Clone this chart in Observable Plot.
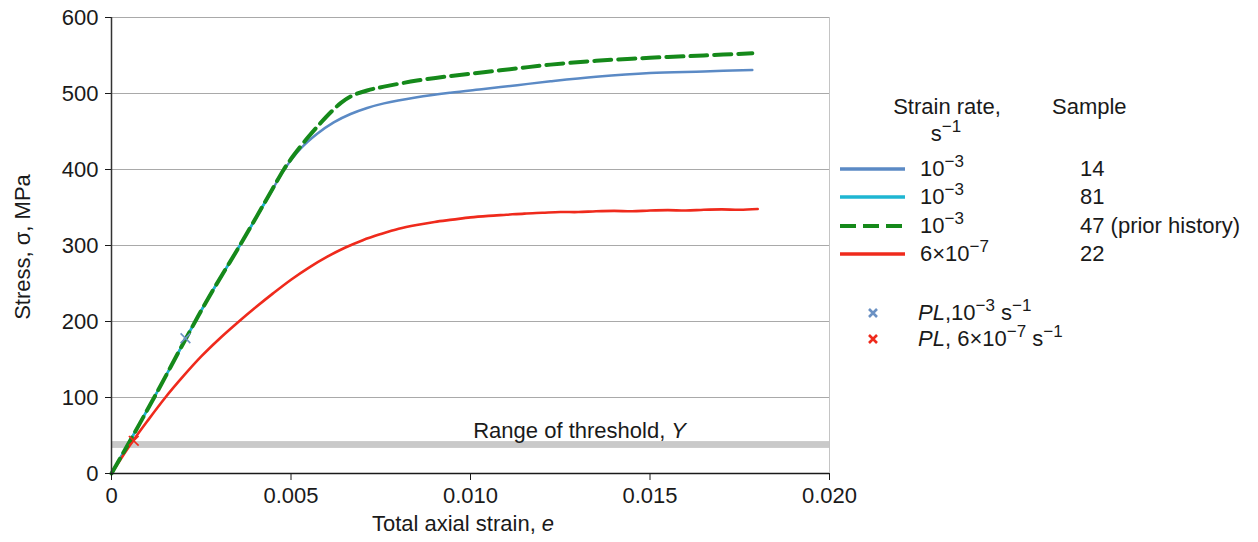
<!DOCTYPE html>
<html>
<head>
<meta charset="utf-8">
<script src="https://cdn.jsdelivr.net/npm/d3@7"></script>
<script src="https://cdn.jsdelivr.net/npm/@observablehq/plot@0.6"></script>
<style>
  html, body { margin: 0; padding: 0; background: #fff; }
  #chart { width: 1258px; height: 542px; }
  #chart svg { display: block; }
</style>
</head>
<body>
<div id="chart"></div>
<script>
// Axis ticks
const strainTicks = [0, 0.005, 0.010, 0.015, 0.020];
const strainTickLabels = ["0", "0.005", "0.010", "0.015", "0.020"];
const stressTicks = [0, 100, 200, 300, 400, 500, 600];

// Sample 14, strain rate 1e-3 /s
const s14Strain = [0, 0.0006, 0.0012, 0.0021, 0.0027, 0.0036, 0.0045, 0.0048, 0.00526, 0.00573, 0.00619, 0.00666, 0.00712, 0.00759, 0.00851, 0.00944, 0.01037, 0.0113, 0.01223, 0.0135, 0.0150, 0.0165, 0.01785];
const s14Stress = [0, 50, 101, 180, 231, 302, 375, 399, 427, 447, 462, 473, 481, 487, 495, 501, 506, 511, 516, 522, 527, 529, 531];

// Sample 81, strain rate 1e-3 /s
const s81Strain = [0, 0.0006, 0.0012, 0.0021, 0.0027, 0.0036, 0.0045];
const s81Stress = [0, 50, 101, 180, 231, 302, 375];

// Sample 47 (prior history), strain rate 1e-3 /s
const s47Strain = [0, 0.0006, 0.0012, 0.0021, 0.0027, 0.0036, 0.00448, 0.0048, 0.00508, 0.00545, 0.00582, 0.0061, 0.0064, 0.0067, 0.00712, 0.00759, 0.00851, 0.00944, 0.01037, 0.0113, 0.01223, 0.0135, 0.0150, 0.0165, 0.01785];
const s47Stress = [0, 50, 101, 180, 231, 302, 374, 400, 419, 441, 461, 475, 488, 497, 504, 509, 517, 523, 528, 533, 538, 543, 547, 550, 553];

// Sample 22, strain rate 6e-7 /s
const s22Strain = [0, 0.0003, 0.0006, 0.0010, 0.0015, 0.0020, 0.0025, 0.0030, 0.0035, 0.0040, 0.0045, 0.0050, 0.0055, 0.0060, 0.0065, 0.0070, 0.0075, 0.0080, 0.0085, 0.0090, 0.0095, 0.0100, 0.0105, 0.0110, 0.0115, 0.0120, 0.0125, 0.0130, 0.0135, 0.0140, 0.0145, 0.0150, 0.0155, 0.0160, 0.0165, 0.0170, 0.0175, 0.0180];
const s22Stress = [0, 22, 43, 69, 100, 128, 154, 177, 198, 218, 237, 255, 271, 285, 297, 307, 315, 322, 327, 331, 334, 337, 339, 340.5, 342, 343, 344, 344, 345, 345.5, 345, 346, 346.5, 346, 347, 347.5, 347, 348];

// Proportional limit points
const plStrain = [0.00206, 0.00062];
const plStress = [178, 43];
const plColors = ["#6b91c3", "#ef2a1c"];

// Range of the threshold stress Y
const thresholdRange = [33, 42];

const colors = { s14: "#5b8ac5", s81: "#1eb6d2", s47: "#15891a", s22: "#ef2a1c" };

const toRows = (xs, ys) => xs.map((x, i) => ({ x, y: ys[i] }));
const s14 = toRows(s14Strain, s14Stress);
const s81 = toRows(s81Strain, s81Stress);
const s47 = toRows(s47Strain, s47Stress);
const s22 = toRows(s22Strain, s22Stress);
const pl = plStrain.map((x, i) => ({ x, y: plStress[i], c: plColors[i] }));

const FONT = "'Liberation Sans', Arial, Helvetica, sans-serif";

const chart = Plot.plot({
  width: 1258,
  height: 542,
  marginLeft: 111,
  marginRight: 429,
  marginTop: 17,
  marginBottom: 69,
  style: { fontFamily: FONT, fontSize: "22px", color: "#1a1a1a", background: "#fff" },
  x: { domain: [0, 0.02] },
  y: { domain: [0, 600] },
  marks: [
    Plot.rect([thresholdRange], { x1: () => strainTicks[0], x2: () => strainTicks[strainTicks.length - 1], y1: d => d[0], y2: d => d[1], fill: "#c9c9c9" }),
    Plot.gridY(stressTicks.filter(d => d > 0), { stroke: "#a9a9a9", strokeOpacity: 1, strokeWidth: 1 }),
    Plot.ruleX([strainTicks[strainTicks.length - 1]], { stroke: "#c4c4c4", strokeWidth: 1 }),
    Plot.text(["Range of threshold, Y"], { x: () => 0.01304, y: () => 46.5, text: d => d, textAnchor: "middle", lineAnchor: "bottom", fill: "#1a1a1a", fontSize: 22 }),
    Plot.line(s14, { x: "x", y: "y", stroke: colors.s14, strokeWidth: 2.5, curve: "catmull-rom" }),
    Plot.line(s81, { x: "x", y: "y", stroke: colors.s81, strokeWidth: 2.5, curve: "catmull-rom" }),
    Plot.line(s22, { x: "x", y: "y", stroke: colors.s22, strokeWidth: 2.6, curve: "catmull-rom" }),
    Plot.line(s47, { x: "x", y: "y", stroke: colors.s47, strokeWidth: 4, strokeDasharray: "17,7", curve: "catmull-rom" }),
    Plot.ruleY([0], { stroke: "#1a1a1a", strokeWidth: 1.3 }),
    Plot.ruleX([0], { stroke: "#333", strokeWidth: 1.5 }),
    Plot.dot(pl, { x: "x", y: "y", symbol: "times", r: 4.5, stroke: "c", strokeWidth: 1.6 }),
    Plot.axisX(strainTicks, { tickFormat: (d, i) => strainTickLabels[i], tickSize: 7, tickPadding: 7, label: null, stroke: "#1a1a1a" }),
    Plot.axisY(stressTicks, { tickSize: 6, tickPadding: 7, label: null, stroke: "#1a1a1a" })
  ]
});

document.getElementById("chart").appendChild(chart);

const svg = d3.select(chart);

// Italic Y in the threshold annotation
svg.selectAll("text").filter(function () { return this.textContent === "Range of threshold, Y"; })
  .each(function () {
    const t = d3.select(this);
    t.text(null);
    t.append("tspan").text("Range of threshold, ");
    t.append("tspan").attr("font-style", "italic").text("Y");
  });

// Text with superscript / italic segments
function richText(parent, x, y, segs, anchor) {
  const t = parent.append("text")
    .attr("x", x).attr("y", y)
    .attr("font-family", FONT).attr("font-size", 22).attr("fill", "#1a1a1a")
    .attr("text-anchor", anchor || "start");
  let raised = false;
  segs.forEach(s => {
    const sp = t.append("tspan").text(s.t);
    if (s.i) sp.attr("font-style", "italic");
    if (s.sup && !raised) { sp.attr("dy", -9).attr("font-size", 17); raised = true; }
    else if (s.sup) { sp.attr("font-size", 17); }
    else if (raised) { sp.attr("dy", 9); raised = false; }
  });
  return t;
}

const ann = svg.append("g").attr("class", "annotations");

// Axis titles
richText(ann, 463, 531, [{ t: "Total axial strain, " }, { t: "e", i: true }], "middle");
richText(ann, 0, 0, [{ t: "Stress, σ, MPa" }], "middle").attr("transform", "translate(30,247) rotate(-90)");

// Legend header
richText(ann, 947, 114, [{ t: "Strain rate," }], "middle");
richText(ann, 946, 141, [{ t: "s" }, { t: "−1", sup: true }], "middle");
richText(ann, 1052, 114, [{ t: "Sample" }]);

// Legend rows
const legendRates = [[{ t: "10" }, { t: "−3", sup: true }], [{ t: "10" }, { t: "−3", sup: true }], [{ t: "10" }, { t: "−3", sup: true }], [{ t: "6×10" }, { t: "−7", sup: true }]];
const legendSamples = ["14", "81", "47 (prior history)", "22"];
const legendKeys = ["s14", "s81", "s47", "s22"];
const legendRowY = [169, 197, 226, 254];

legendKeys.forEach((k, i) => {
  const y = legendRowY[i];
  ann.append("line")
    .attr("x1", 840).attr("x2", 905).attr("y1", y).attr("y2", y)
    .attr("stroke", colors[k])
    .attr("stroke-width", k === "s47" ? 4 : 3.5)
    .attr("stroke-dasharray", k === "s47" ? "16,7" : null);
  richText(ann, 920, y + 7, legendRates[i]);
  richText(ann, 1080, y + 7, [{ t: legendSamples[i] }]);
});

// Proportional-limit legend
const plLabels = [
  [{ t: "PL", i: true }, { t: ",10" }, { t: "−3", sup: true }, { t: " s" }, { t: "−1", sup: true }],
  [{ t: "PL", i: true }, { t: ", 6×10" }, { t: "−7", sup: true }, { t: " s" }, { t: "−1", sup: true }]
];
const plRowY = [313, 339];
plRowY.forEach((y, i) => {
  const cx = 873, h = 4;
  ann.append("path")
    .attr("d", `M${cx - h},${y - h}L${cx + h},${y + h}M${cx - h},${y + h}L${cx + h},${y - h}`)
    .attr("stroke", plColors[i]).attr("stroke-width", 2.6).attr("fill", "none");
  richText(ann, 918, y + 7, plLabels[i]);
});
</script>
</body>
</html>
